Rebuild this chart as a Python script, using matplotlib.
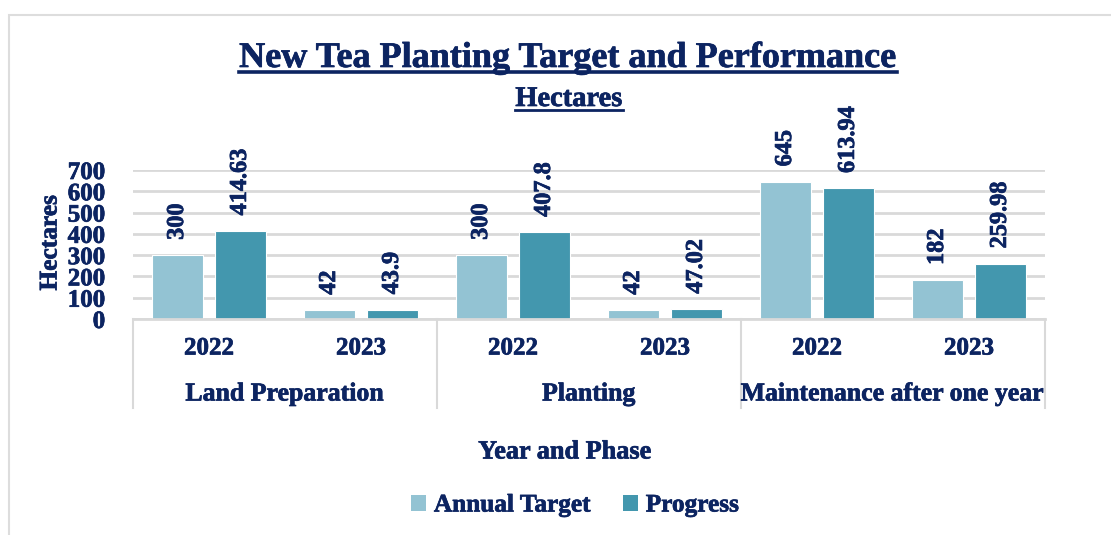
import matplotlib
matplotlib.use("Agg")
import matplotlib.pyplot as plt
from matplotlib.patches import Rectangle, Patch
from matplotlib.lines import Line2D
import matplotlib.patheffects as pe

# ---- data ----
phases = ["Land Preparation", "Planting", "Maintenance after one year"]
years = ["2022", "2023"]
annual_target = [300, 42, 300, 42, 645, 182]
progress = [414.63, 43.9, 407.8, 47.02, 613.94, 259.98]
target_labels = ["300", "42", "300", "42", "645", "182"]
progress_labels = ["414.63", "43.9", "407.8", "47.02", "613.94", "259.98"]
yticks = [0, 100, 200, 300, 400, 500, 600, 700]

NAVY = "#0C2461"
LIGHT = "#93C3D3"
DARK = "#4397AE"
GRID = "#D9D9D9"
FONT = "Liberation Serif"
PE = [pe.withStroke(linewidth=0.5, foreground=NAVY)]

plt.rcParams["font.family"] = FONT
plt.rcParams["font.weight"] = "bold"

W, H = 1111, 535
fig = plt.figure(figsize=(W / 100, H / 100), dpi=100)

# outer border
fig.patches.append(Rectangle((9 / W, -0.1), 1.2, 1 - 15 / H + 0.1, transform=fig.transFigure,
                             fill=False, edgecolor="#DDDDDD", lw=1.5))

x0, x1 = 133, 1045
y0, y1 = 319, 170
ax = fig.add_axes([x0 / W, (H - y0) / H, (x1 - x0) / W, (y0 - y1) / H])
ax.set_xlim(0, 6)
ax.set_ylim(0, 700)
for s in ax.spines.values():
    s.set_visible(False)
ax.set_yticks(yticks)
ax.set_yticklabels([str(t) for t in yticks], fontsize=18, color=NAVY, fontweight="bold")
for tl in ax.get_yticklabels():
    tl.set_path_effects(PE)
ax.tick_params(axis="y", length=0, pad=20)
ax.set_xticks([])
ax.grid(axis="y", color=GRID, lw=2)
ax.set_axisbelow(True)

pos = [i + 0.5 for i in range(len(annual_target))]
bw = 0.33
off = 0.207
b1 = ax.bar([p - off for p in pos], annual_target, bw, color=LIGHT, edgecolor="white", lw=0.8, zorder=3)
b2 = ax.bar([p + off for p in pos], progress, bw, color=DARK, edgecolor="white", lw=0.8, zorder=3)

for bars, labs in ((b1, target_labels), (b2, progress_labels)):
    for r, lab in zip(bars, labs):
        ax.annotate(lab, (r.get_x() + r.get_width() / 2, r.get_height()),
                    xytext=(0, 11), textcoords="offset points", rotation=90,
                    ha="center", va="bottom", fontsize=17.5, color=NAVY,
                    fontweight="bold", annotation_clip=False, path_effects=PE)

# category axis
tr = ax.get_xaxis_transform()
ax.plot([0, 6], [0, 0], transform=tr, color=GRID, lw=2, clip_on=False, zorder=4)
for xv in (0, 2, 4, 6):
    ax.plot([xv, xv], [0, (y0 - 408) / (y0 - y1)], transform=tr, color=GRID, lw=1.5, clip_on=False)
for i, p in enumerate(pos):
    ax.text(p, (y0 - 348) / (y0 - y1), years[i % 2], transform=tr, ha="center", va="center",
            fontsize=18, color=NAVY, fontweight="bold", path_effects=PE)
for j, ph in enumerate(phases):
    ax.text(2 * j + 1, (y0 - 394) / (y0 - y1), ph, transform=tr, ha="center", va="center",
            fontsize=18.6, color=NAVY, fontweight="bold", path_effects=PE)

# axis titles
fig.text(50 / W, 1 - 243 / H, "Hectares", rotation=90, ha="center", va="center",
         fontsize=18.3, color=NAVY, fontweight="bold", path_effects=PE)
fig.text(565 / W, 1 - 452 / H, "Year and Phase", ha="center", va="center",
         fontsize=18.9, color=NAVY, fontweight="bold", path_effects=PE)

# titles
t1 = fig.text(568 / W, 1 - 67 / H, "New Tea Planting Target and Performance", ha="center",
              va="baseline", fontsize=26, color=NAVY, fontweight="bold", path_effects=PE)
t2 = fig.text(569 / W, 1 - 106 / H, "Hectares", ha="center", va="baseline",
              fontsize=20.5, color=NAVY, fontweight="bold", path_effects=PE)

# legend
handles = [Patch(facecolor=LIGHT, label="Annual Target"), Patch(facecolor=DARK, label="Progress")]
leg = fig.legend(handles=handles, loc="center", bbox_to_anchor=(575 / W, 1 - 505 / H), ncol=2,
                 frameon=False, prop={"family": FONT, "weight": "bold", "size": 18.2},
                 labelcolor=NAVY, handlelength=0.6, handleheight=0.6, handletextpad=0.3,
                 columnspacing=1.3)
for t in leg.get_texts():
    t.set_path_effects(PE)

# underlines
fig.canvas.draw()
r = fig.canvas.get_renderer()
for t, dy, lw in ((t1, 5, 2.6), (t2, 4, 2.0)):
    bb = t.get_window_extent(r)
    xa, xb = bb.x0 / W, bb.x1 / W
    yb = t.get_position()[1] - dy / H
    fig.lines.append(Line2D([xa, xb], [yb, yb], transform=fig.transFigure, color=NAVY, lw=lw))

fig.savefig("out.png", dpi=100)
